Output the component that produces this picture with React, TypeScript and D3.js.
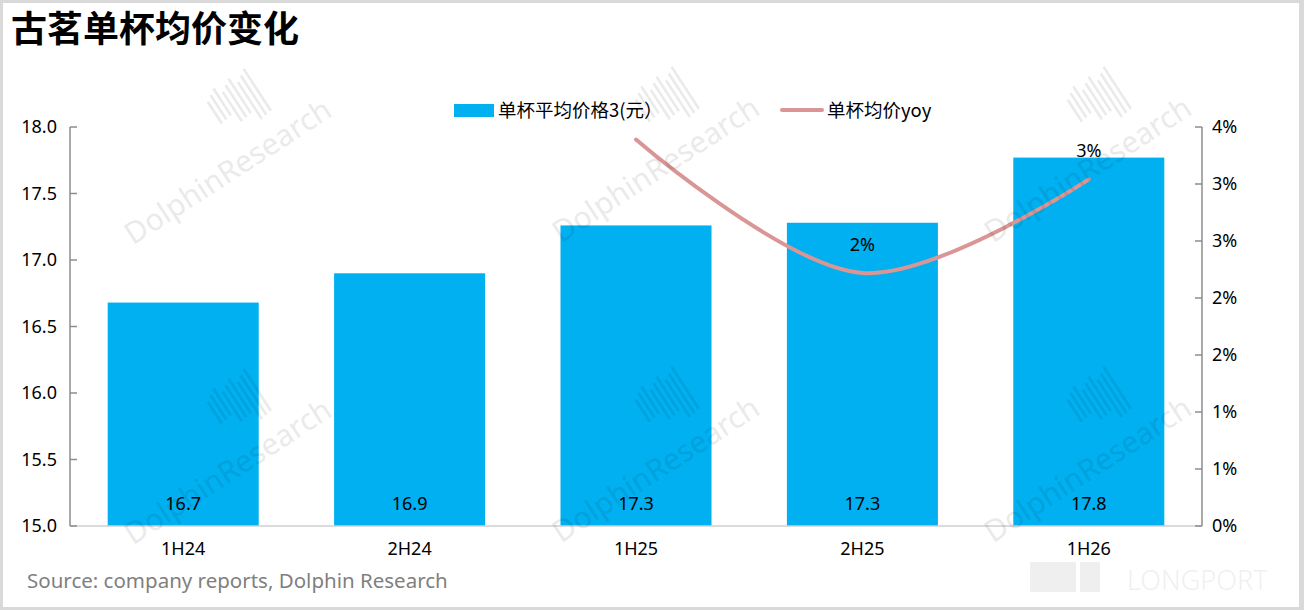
import * as d3 from 'd3';
import * as React from 'react';

// chart values
const categories = ['1H24', '2H24', '1H25', '2H25', '1H26'];
const avgPrice = [16.68, 16.9, 17.26, 17.28, 17.77];
const priceYoy: (number | null)[] = [null, null, 3.39, 2.22, 3.04];
const yoyLabelShown = [false, false, false, true, true];
const leftTicks = [15.0, 15.5, 16.0, 16.5, 17.0, 17.5, 18.0];
const rightTicks = [0, 0.5, 1, 1.5, 2, 2.5, 3, 3.5];

const W = 1304;
const H = 610;
const BLUE = '#00B0F0';
const PINK = '#D99694';
const AXIS = '#8c8c8c';
const FONT = '"Noto Sans", "Liberation Sans", Arial, sans-serif';
const CJK = '"Noto Sans CJK SC", "Noto Sans", sans-serif';

const marks = [
  [228, 172], [656, 170], [1088, 170],
  [228, 472], [656, 470], [1088, 470],
];

export default function App() {
  const plot = { left: 70, right: 1202, top: 127, bottom: 526 };

  const x = d3.scaleBand<string>()
    .domain(categories)
    .range([plot.left, plot.right])
    .paddingInner(0.333)
    .paddingOuter(0.1665);

  const yL = d3.scaleLinear().domain([15, 18]).range([plot.bottom, plot.top]);
  const yR = d3.scaleLinear().domain([0, 3.5]).range([plot.bottom, plot.top]);

  const fmt1 = d3.format('.1f');
  // excel style rounding for the 0% format
  const pct = (v: number) => `${Math.round(v + 1e-9)}%`;

  const pts = categories
    .map((c, i) => ({ c, v: priceYoy[i], show: yoyLabelShown[i] }))
    .filter(d => d.v !== null) as { c: string; v: number; show: boolean }[];

  const line = d3.line<{ c: string; v: number }>()
    .x(d => (x(d.c) as number) + x.bandwidth() / 2)
    .y(d => yR(d.v))
    .curve(d3.curveCatmullRom.alpha(0.5));

  const cx = (c: string) => (x(c) as number) + x.bandwidth() / 2;

  return (
    <svg width={W} height={H} style={{ position: 'absolute', left: 0, top: 0 }}>
      <rect x={0} y={0} width={W} height={H} fill="#d9d9d9" />
      <rect x={3} y={3} width={1296} height={604} fill="#fff" />

      <text x={11} y={42} fontFamily={CJK} fontWeight={700} fontSize={36} fill="#000">
        古茗单杯均价变化
      </text>

      {/* legend */}
      <rect x={454} y={104} width={40} height={13} fill={BLUE} />
      <text x={498} y={117} fontFamily={CJK} fontSize={18.5} fill="#000">单杯平均价格3(元）</text>
      <line x1={782} x2={822} y1={110} y2={110} stroke={PINK} strokeWidth={4} strokeLinecap="round" />
      <text x={827} y={117} fontFamily={CJK} fontSize={18.5} fill="#000">单杯均价yoy</text>

      {/* bars */}
      {categories.map((c, i) => (
        <g key={c}>
          <rect
            x={x(c)}
            y={yL(avgPrice[i])}
            width={x.bandwidth()}
            height={plot.bottom - yL(avgPrice[i])}
            fill={BLUE}
          />
          <text x={cx(c)} y={510} textAnchor="middle" fontFamily={FONT} fontSize={18} fill="#000">
            {fmt1(avgPrice[i])}
          </text>
          <text x={cx(c)} y={555} textAnchor="middle" fontFamily={FONT} fontSize={18} fill="#000">
            {c}
          </text>
        </g>
      ))}

      {/* yoy line */}
      <path d={line(pts) || ''} fill="none" stroke={PINK} strokeWidth={4} strokeLinecap="round" />
      {pts.filter(d => d.show).map(d => (
        <text
          key={d.c}
          x={cx(d.c)}
          y={yR(d.v) - 22}
          textAnchor="middle"
          fontFamily={FONT}
          fontSize={18}
          fill="#000"
        >
          {pct(d.v)}
        </text>
      ))}

      {/* axes */}
      <line x1={plot.left} x2={plot.right} y1={plot.bottom} y2={plot.bottom} stroke="#d0d0d0" strokeWidth={1.5} />
      <line x1={plot.left} x2={plot.left} y1={plot.top} y2={plot.bottom} stroke={AXIS} strokeWidth={1.5} />
      {leftTicks.map(t => (
        <g key={t}>
          <line x1={plot.left} x2={plot.left + 7} y1={yL(t)} y2={yL(t)} stroke={AXIS} strokeWidth={1.5} />
          <text x={57} y={yL(t) + 6} textAnchor="end" fontFamily={FONT} fontSize={18} fill="#000">
            {fmt1(t)}
          </text>
        </g>
      ))}
      <line x1={plot.right} x2={plot.right} y1={plot.top} y2={plot.bottom} stroke={AXIS} strokeWidth={1.5} />
      {rightTicks.map(t => (
        <g key={t}>
          <line x1={plot.right - 7} x2={plot.right} y1={yR(t)} y2={yR(t)} stroke={AXIS} strokeWidth={1.5} />
          <text x={1212} y={yR(t) + 6} fontFamily={FONT} fontSize={18} fill="#000">
            {pct(t)}
          </text>
        </g>
      ))}

      <text x={27} y={588} fontFamily={FONT} fontSize={20.5} fill="#7f7f7f">
        Source: company reports, Dolphin Research
      </text>

      {/* watermarks */}
      {marks.map(([mx, my], i) => (
        <g key={i} transform={`translate(${mx},${my}) rotate(-33)`} opacity={0.08}>
          <text textAnchor="middle" y={10} fontFamily={FONT} fontSize={30} fill="#000">
            DolphinResearch
          </text>
          {d3.range(9).map(k => (
            <rect key={k} x={20 + k * 6} y={-70 - (k % 3) * 4} width={2.5} height={26 + k * 3} fill="#000" />
          ))}
        </g>
      ))}
      <g opacity={0.06}>
        <rect x={1030} y={562} width={46} height={30} fill="#000" />
        <rect x={1080} y={562} width={20} height={30} fill="#000" />
        <text x={1127} y={590} fontFamily={FONT} fontSize={27} fontWeight={300} fill="#000">LONGPORT</text>
      </g>
    </svg>
  );
}
